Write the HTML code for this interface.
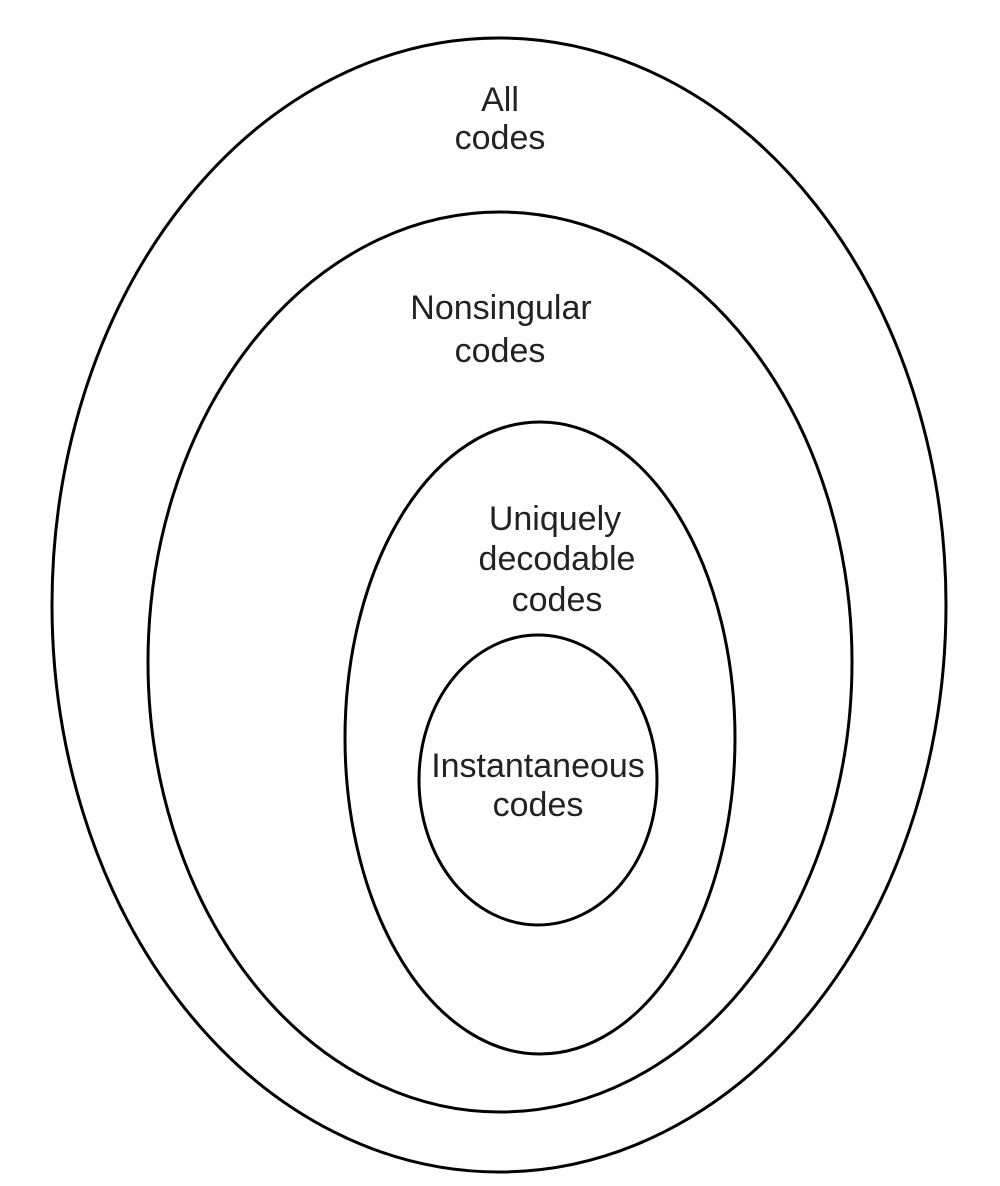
<!DOCTYPE html>
<html><head><meta charset="utf-8"><style>
html,body{margin:0;padding:0;background:#fff;}
svg{display:block;}
text{font-family:"Liberation Sans",sans-serif;font-size:34px;fill:#222;text-anchor:middle;}
</style></head><body>
<svg width="1000" height="1186" viewBox="0 0 1000 1186" xmlns="http://www.w3.org/2000/svg">
<g fill="none" stroke="#000" stroke-width="3">
<ellipse cx="499" cy="605" rx="447" ry="567"/>
<ellipse cx="500" cy="662" rx="352" ry="450"/>
<ellipse cx="540" cy="738" rx="195" ry="316"/>
<ellipse cx="538" cy="780" rx="119" ry="145"/>
</g>
<text x="500" y="111">All</text>
<text x="500" y="149">codes</text>
<text x="501" y="319">Nonsingular</text>
<text x="500" y="362">codes</text>
<text x="555" y="530">Uniquely</text>
<text x="557" y="570">decodable</text>
<text x="557" y="611">codes</text>
<text x="538" y="777">Instantaneous</text>
<text x="538" y="816">codes</text>
</svg>
</body></html>
